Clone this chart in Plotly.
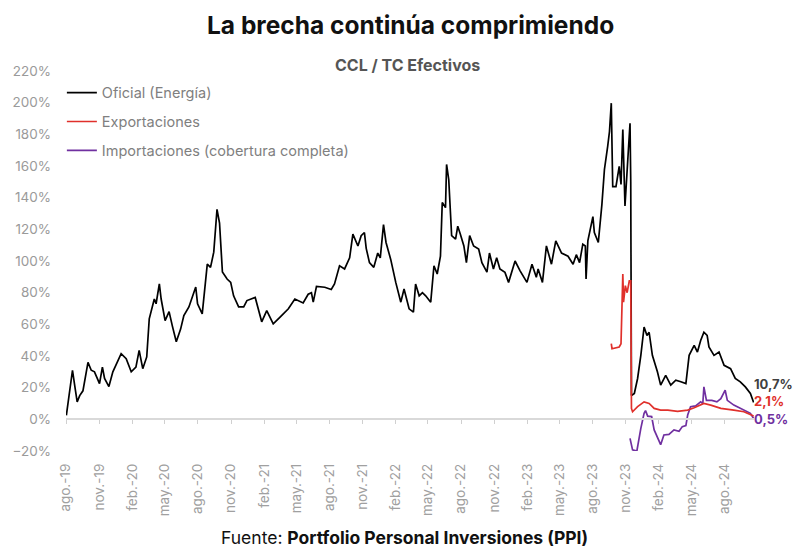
import plotly.graph_objects as go

# Brecha CCL vs tipos de cambio efectivos (%)
oficial_fechas = [
    '2019-08-02', '2019-08-07', '2019-08-19', '2019-08-25', '2019-09-01', '2019-09-08', '2019-09-17',
    '2019-10-01', '2019-10-10', '2019-10-19', '2019-11-02', '2019-11-10', '2019-11-16', '2019-11-28',
    '2019-12-09', '2020-01-01', '2020-01-15', '2020-01-29', '2020-02-11', '2020-02-20', '2020-03-01',
    '2020-03-12', '2020-03-19', '2020-04-02', '2020-04-07', '2020-04-16', '2020-04-21', '2020-05-02',
    '2020-05-13', '2020-05-22', '2020-06-02', '2020-06-14', '2020-06-23', '2020-07-07', '2020-07-15',
    '2020-07-26', '2020-07-31', '2020-08-13', '2020-08-27', '2020-09-05', '2020-09-14', '2020-09-19',
    '2020-09-23', '2020-09-30', '2020-10-08', '2020-10-21', '2020-10-31', '2020-11-08', '2020-11-22',
    '2020-12-06', '2020-12-15', '2021-01-07', '2021-01-25', '2021-02-08', '2021-02-26', '2021-03-17',
    '2021-04-09', '2021-04-27', '2021-05-15', '2021-05-20', '2021-06-03', '2021-06-12', '2021-06-17',
    '2021-06-26', '2021-07-19', '2021-08-06', '2021-08-15', '2021-08-29', '2021-09-12', '2021-09-26',
    '2021-10-05', '2021-10-19', '2021-10-28', '2021-11-06', '2021-11-11', '2021-11-20', '2021-12-02',
    '2021-12-13', '2021-12-20', '2021-12-29', '2022-01-05', '2022-01-18', '2022-02-01', '2022-02-15',
    '2022-02-24', '2022-03-10', '2022-03-22', '2022-03-28', '2022-04-07', '2022-04-16', '2022-04-25',
    '2022-05-09', '2022-05-18', '2022-05-27', '2022-06-05', '2022-06-10', '2022-06-19', '2022-06-22',
    '2022-06-28', '2022-07-06', '2022-07-17', '2022-07-23', '2022-07-30', '2022-08-09', '2022-08-16',
    '2022-08-25', '2022-09-05', '2022-09-19', '2022-09-28', '2022-10-12', '2022-10-19', '2022-10-30',
    '2022-11-08', '2022-11-17', '2022-12-01', '2022-12-11', '2022-12-29', '2023-01-12', '2023-01-31',
    '2023-02-14', '2023-02-26', '2023-03-03', '2023-03-15', '2023-03-26', '2023-04-09', '2023-04-21',
    '2023-05-07', '2023-05-25', '2023-06-08', '2023-06-17', '2023-06-26', '2023-07-05', '2023-07-12',
    '2023-07-14', '2023-07-19', '2023-08-02', '2023-08-06', '2023-08-17', '2023-08-27', '2023-09-03',
    '2023-09-12', '2023-09-17', '2023-09-22', '2023-09-26', '2023-10-05', '2023-10-14', '2023-10-19',
    '2023-10-24', '2023-10-30', '2023-11-05', '2023-11-13', '2023-11-15', '2023-11-17', '2023-11-25',
    '2023-12-04', '2023-12-13', '2023-12-22', '2023-12-30', '2024-01-05', '2024-01-14', '2024-01-28',
    '2024-02-06', '2024-02-20', '2024-03-05', '2024-03-19', '2024-04-02', '2024-04-16', '2024-04-25',
    '2024-05-09', '2024-05-18', '2024-05-27', '2024-06-05', '2024-06-14', '2024-06-19', '2024-07-03',
    '2024-07-17', '2024-07-31', '2024-08-18', '2024-08-31', '2024-09-14', '2024-09-28', '2024-10-12',
    '2024-10-21',
]
oficial_brecha = [
    2.5, 11, 31, 21.6, 11, 15, 18,
    36, 31, 30, 22.6, 33, 25.8, 20.7,
    30, 41.5, 38.3, 30, 33, 43.6, 32,
    39.4, 63.5, 76, 73, 85.5, 76, 62.4,
    68, 59, 49, 57, 65.5, 71, 76,
    83.6, 73, 66.6, 98, 96, 105.6, 118,
    132.6, 124, 93, 88.6, 86.5, 78, 71,
    71, 75, 77, 61.6, 68.7, 60.3, 64.5,
    69.8, 76, 74, 73.5, 79, 80, 74,
    84, 83.4, 82, 85.5, 97, 95, 102,
    117, 109.5, 116, 118, 108, 99, 96,
    105, 102, 123, 111.7, 101, 86.5, 74,
    82.3, 69.8, 67.7, 85.5, 78, 80, 78,
    74, 97, 91.8, 103, 137, 133.7, 161,
    151.5, 116, 113.8, 122, 117, 109.5, 99,
    116, 109.5, 107.5, 99, 93, 105, 95,
    102, 95, 92.8, 86.5, 100, 93.8, 86.5,
    98, 89.7, 95, 86.5, 109.5, 98, 112.7,
    105, 103, 98, 104, 99, 110.6, 109.5,
    88.6, 112.7, 128, 118, 111.7, 135.8, 157.8,
    172.4, 181.8, 199.7, 147, 147, 159.8, 148.3,
    183, 134.7, 160, 187, 150, 15, 16.3,
    25.8, 40.4, 58.3, 53, 55, 40.4, 30,
    21.6, 27.8, 21.6, 24.7, 23.7, 22.6, 40.4,
    46.7, 42.5, 49.8, 55, 53, 45.7, 40.4,
    42.5, 34.1, 32, 25.8, 23.7, 20.5, 16.3,
    10.7,
]

expo_fechas = [
    '2023-09-22', '2023-09-24', '2023-10-14', '2023-10-19', '2023-10-24', '2023-10-26', '2023-10-31',
    '2023-11-05', '2023-11-11', '2023-11-15', '2023-11-17', '2023-11-20', '2023-12-04', '2023-12-22',
    '2024-01-05', '2024-01-19', '2024-02-06', '2024-02-26', '2024-03-24', '2024-04-21', '2024-05-09',
    '2024-06-05', '2024-06-24', '2024-07-22', '2024-08-27', '2024-09-24', '2024-10-21',
]
expo_brecha = [
    47.8, 44.6, 45.7, 47.8, 91.8, 74, 84.4,
    80, 87.5, 87.5, 6.9, 4.8, 8, 11,
    10, 6.9, 5.8, 5.8, 5, 5.8, 7.3,
    10, 9, 6.9, 5.8, 4.8, 2.1,
]

impo_fechas = [
    '2023-11-13', '2023-11-20', '2023-12-02', '2023-12-07', '2023-12-13', '2023-12-22', '2023-12-26',
    '2024-01-01', '2024-01-12', '2024-01-19', '2024-02-01', '2024-02-06', '2024-02-15', '2024-02-29',
    '2024-03-14', '2024-03-28', '2024-04-06', '2024-04-16', '2024-04-21', '2024-04-29', '2024-05-13',
    '2024-05-27', '2024-06-02', '2024-06-05', '2024-06-12', '2024-06-27', '2024-07-11', '2024-07-22',
    '2024-08-03', '2024-08-09', '2024-08-27', '2024-09-14', '2024-09-28', '2024-10-12', '2024-10-21',
]
impo_brecha = [
    -12, -19.3, -20, -12, -5.7, 3.8, 5.5,
    2, 1.7, -6.7, -13, -16, -9.9, -9.5,
    -6.7, -7.5, -4.6, -4, 2.7, 8, 8.5,
    11, 10, 20.5, 12, 12, 11, 13,
    18.4, 12, 9, 6.9, 5.5, 3.8, 0.5,
]

tick_fechas = [
    '2019-08-01', '2019-11-01', '2020-02-01', '2020-05-01', '2020-08-01', '2020-11-01', '2021-02-01',
    '2021-05-01', '2021-08-01', '2021-11-01', '2022-02-01', '2022-05-01', '2022-08-01', '2022-11-01',
    '2023-02-01', '2023-05-01', '2023-08-01', '2023-11-01', '2024-02-01', '2024-05-01', '2024-08-01',
]
tick_textos = [
    'ago.-19', 'nov.-19', 'feb.-20', 'may.-20', 'ago.-20', 'nov.-20', 'feb.-21',
    'may.-21', 'ago.-21', 'nov.-21', 'feb.-22', 'may.-22', 'ago.-22', 'nov.-22',
    'feb.-23', 'may.-23', 'ago.-23', 'nov.-23', 'feb.-24', 'may.-24', 'ago.-24',
]

series = [
    ('Oficial (Energía)', oficial_fechas, oficial_brecha, '#000000', '10,7%', '#404040', 18),
    ('Exportaciones', expo_fechas, expo_brecha, '#e0302b', '2,1%', '#e0302b', 15),
    ('Importaciones (cobertura completa)', impo_fechas, impo_brecha, '#7030a0', '0,5%', '#7030a0', 0),
]

fig = go.Figure()
annotations = []
for i, (name, xs, ys, color, label, label_color, yshift) in enumerate(series):
    fig.add_trace(go.Scatter(
        x=xs, y=ys, name=name, mode='lines',
        line=dict(color=color, width=1.7),
        legendgroup=f'g{i}',
        xaxis='x2' if i == 1 else 'x',
    ))
    annotations.append(dict(
        x=xs[-1], y=ys[-1], xref='x', yref='y', text=f'<b>{label}</b>',
        showarrow=False, xanchor='left', yanchor='middle', yshift=yshift, xshift=-2,
        font=dict(family='Inter', size=13, color=label_color),
    ))

annotations += [
    dict(text='<b>La brecha continúa comprimiendo</b>', xref='paper', yref='paper',
         x=0.5, y=(451 - 25) / 380, showarrow=False, xanchor='center', yanchor='middle',
         font=dict(family='Inter', size=24.5, color='#111111')),
    dict(text='<b>CCL / TC Efectivos</b>', xref='paper', yref='paper',
         x=0.497, y=(451 - 65) / 380, showarrow=False, xanchor='center', yanchor='middle',
         font=dict(family='Inter', size=16, color='#555555')),
    dict(text='Fuente: <b>Portfolio Personal Inversiones (PPI)</b>', xref='paper', yref='paper',
         x=0.492, y=(451 - 537) / 380, showarrow=False, xanchor='center', yanchor='middle',
         font=dict(family='Inter', size=17.5, color='#111111')),
]

fig.update_layout(
    width=800, height=552,
    margin=dict(l=61, r=46, t=71, b=101),
    plot_bgcolor='white', paper_bgcolor='white',
    showlegend=True,
    legend=dict(
        x=-0.006, y=0.985, xanchor='left', yanchor='top',
        font=dict(family='Inter', size=14.5, color='#808080'),
        tracegroupgap=7, bgcolor='rgba(0,0,0,0)',
    ),
    xaxis=dict(
        type='date', range=['2019-08-01', '2024-10-22'],
        tickvals=tick_fechas, ticktext=tick_textos, tickangle=-90,
        showgrid=False, zeroline=False, showline=False, ticks='',
        tickfont=dict(family='Inter', size=13.5, color='#a0a0a0'),
        ticklabelstandoff=9,
    ),
    xaxis2=dict(
        type='date', overlaying='x', matches='x', anchor='free', position=20 / 240,
        showline=True, linecolor='#d9d9d9', linewidth=1.5,
        tickvals=tick_fechas, showticklabels=False, ticks='outside', ticklen=4,
        tickcolor='#d0d0d0', tickwidth=1.2, showgrid=False, zeroline=False,
    ),
    yaxis=dict(
        range=[-20, 220], dtick=20, ticksuffix='%',
        showgrid=False, zeroline=False, showline=False,
        tickfont=dict(family='Inter', size=13.5, color='#9a9a9a'),
        ticklabelstandoff=14,
    ),
    annotations=annotations,
)

fig.write_html('out.html', config={'displayModeBar': False},
               post_script="document.body.style.margin='0';")
